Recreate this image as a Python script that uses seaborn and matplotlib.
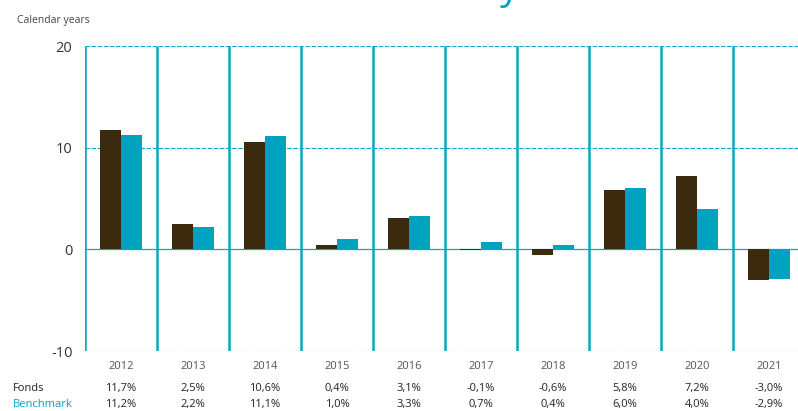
import matplotlib
matplotlib.use("Agg")
import matplotlib.pyplot as plt
import seaborn as sns
import pandas as pd

years = ["2012", "2013", "2014", "2015", "2016", "2017", "2018", "2019", "2020", "2021"]
fonds = [11.7, 2.5, 10.6, 0.4, 3.1, -0.1, -0.6, 5.8, 7.2, -3.0]
benchmark = [11.2, 2.2, 11.1, 1.0, 3.3, 0.7, 0.4, 6.0, 4.0, -2.9]
series = ["Fonds", "Benchmark"]
yticks = [-10, 0, 10, 20]

BROWN = "#3b2a0e"
CYAN = "#00a3bf"
LINE = "#0ba6c3"

sns.set_theme(style="white")
plt.rcParams["font.family"] = ["Open Sans", "DejaVu Sans"]

df = pd.DataFrame({
    "year": years * 2,
    "value": fonds + benchmark,
    "series": [series[0]] * len(years) + [series[1]] * len(years),
})

W, H = 798, 411
fig = plt.figure(figsize=(W / 100, H / 100), dpi=100)
left, right, top, bottom = 85, 798, 46, 351
ax = fig.add_axes([left / W, (H - bottom) / H, (right - left) / W, (bottom - top) / H])

sns.barplot(data=df, x="year", y="value", hue="series", order=years,
            hue_order=series, palette=[BROWN, CYAN], saturation=1, width=0.57,
            dodge=True, legend=False, ax=ax, linewidth=0, errorbar=None)

ax.set_xlim(-0.5, 9.5 - 7 / 72)
ax.set_ylim(-10, 20)

for s in ax.spines.values():
    s.set_visible(False)

# gridlines
for yv in [20, 10, -10]:
    ax.axhline(yv, color=LINE, lw=0.8, ls=(0, (4, 1.5)), zorder=0.5)
ax.axhline(0, color=LINE, lw=0.9, zorder=0.6)
for i in range(len(years)):
    ax.vlines(i - 0.5, -10, 20, color=LINE, lw=1.8, zorder=3)

ax.set_yticks(yticks)
ax.set_yticklabels([str(v) for v in yticks], fontsize=10.5, color="#333333")
ax.tick_params(axis="y", length=0, pad=9)
ax.set_xticks(range(len(years)))
ax.set_xticklabels(years, fontsize=8, color="#555555")
ax.tick_params(axis="x", length=0, pad=7)
ax.set_xlabel("")
ax.set_ylabel("")

tr = ax.get_xaxis_transform()
yf = (bottom - 388) / (bottom - top)
yb = (bottom - 404) / (bottom - top)
for i in range(len(years)):
    ax.text(i, yf, f"{fonds[i]:.1f}%".replace(".", ","), transform=tr,
            ha="center", va="center", fontsize=8, color="#222222", clip_on=False)
    ax.text(i, yb, f"{benchmark[i]:.1f}%".replace(".", ","), transform=tr,
            ha="center", va="center", fontsize=8, color="#222222", clip_on=False)

fig.text(13 / W, 1 - 388 / H, "Fonds", ha="left", va="center", fontsize=8, color="#222222")
fig.text(13 / W, 1 - 404 / H, "Benchmark", ha="left", va="center", fontsize=8, color=CYAN)
fig.text(17 / W, 1 - 20 / H, "Calendar years", ha="left", va="center", fontsize=7.5, color="#444444")

# descender of the cut-off title above the chart
fig.text(500 / W, 1 + 1 / H, "y", ha="left", va="baseline", fontsize=28, color=CYAN)

fig.savefig("out.png", dpi=100)
